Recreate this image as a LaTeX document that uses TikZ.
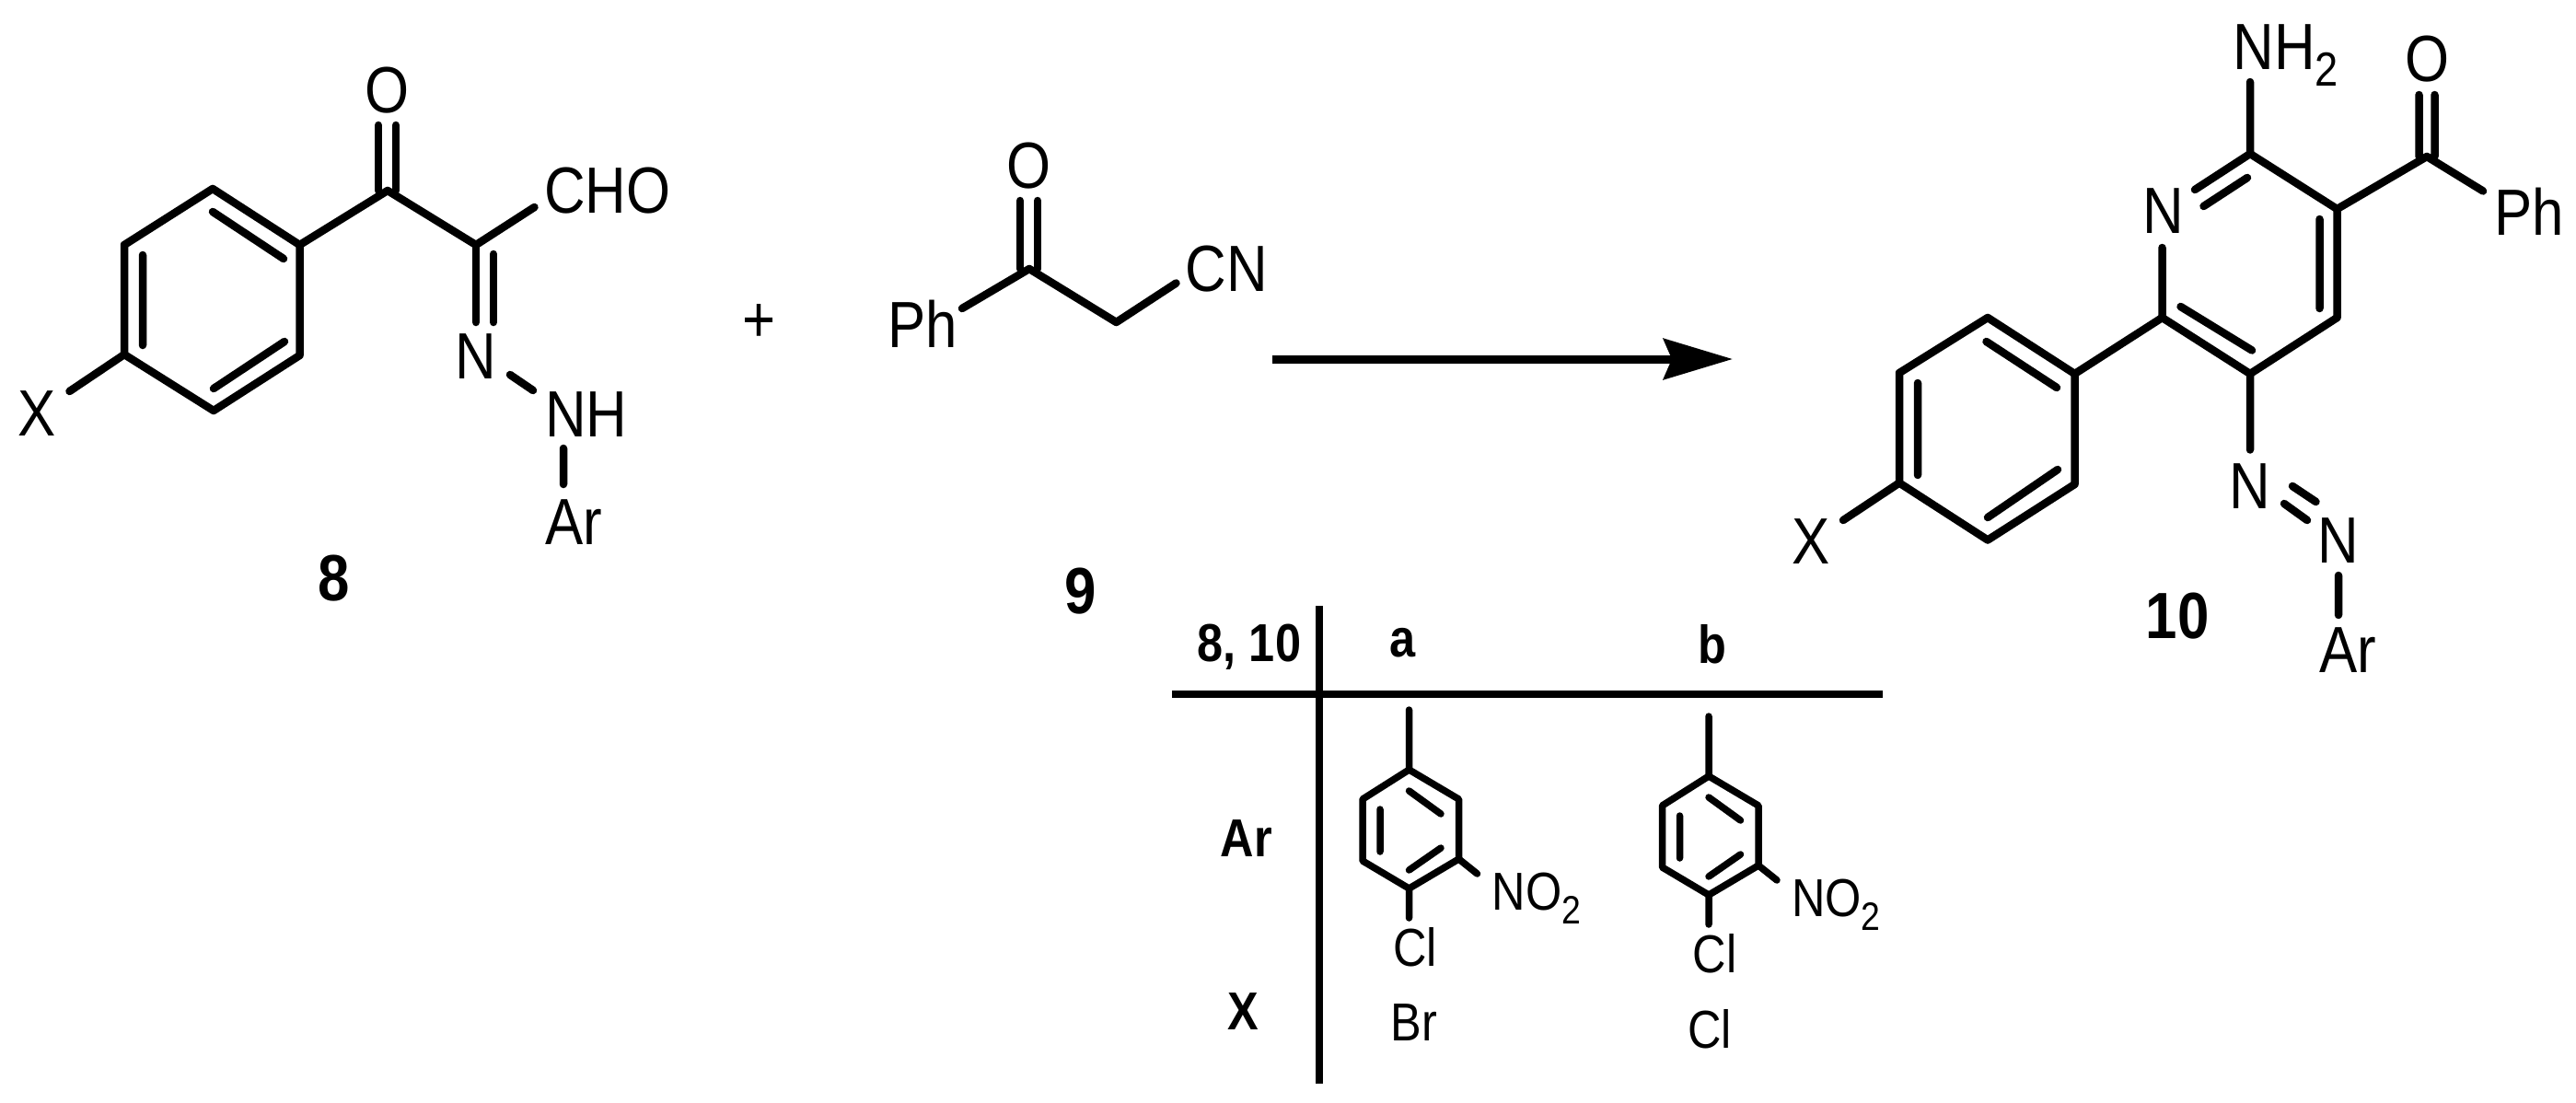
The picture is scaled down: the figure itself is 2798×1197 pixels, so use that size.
\documentclass[tikz,border=0pt]{standalone}
\usepackage{fontspec}
\setmainfont[FakeStretch=0.87]{Liberation Sans}
\usetikzlibrary{arrows.meta}
\newcommand{\subtwo}[1]{\raisebox{-0.26em}{\fontsize{#1}{#1}\selectfont 2}}
\tikzset{
  bond/.style={line width=8.5pt,line cap=round,line join=round},
  smallbond/.style={line width=7.5pt,line cap=round,line join=round},
  rule/.style={line width=8pt},
  atom/.style={inner sep=0pt,font=\fontsize{71}{71}\selectfont},
  tatom/.style={inner sep=0pt,font=\fontsize{58}{58}\selectfont},
  cpd/.style={inner sep=0pt,font=\fontsize{71}{71}\selectfont\bfseries},
  thead/.style={inner sep=0pt,font=\fontsize{58}{58}\selectfont\bfseries},
  rxn/.style={line width=9pt,-{Stealth[length=75pt,width=44pt,inset=9pt]}}
}
\begin{document}
\begin{tikzpicture}[x=1pt,y=-1pt]
\useasboundingbox (0,0) rectangle (2798,1197);
% ---------- compound 8
\coordinate (a1) at (231,205); \coordinate (a2) at (325.5,266); \coordinate (a3) at (325.5,386);
\coordinate (a4) at (232,446); \coordinate (a5) at (135,385); \coordinate (a6) at (135,266);
\coordinate (ai1) at (231,230); \coordinate (ai2) at (308,281); \coordinate (ai3) at (155,277);
\coordinate (ai4) at (155,375); \coordinate (ai5) at (309,371); \coordinate (ai6) at (232,422);
\coordinate (ak) at (421,207); \coordinate (akl) at (411,136); \coordinate (akr) at (430,136);
\coordinate (akl2) at (411,207); \coordinate (akr2) at (430,207);
\coordinate (ac) at (517,266); \coordinate (acho) at (580.5,225);
\coordinate (an1) at (517,350); \coordinate (an2) at (536,350); \coordinate (an3) at (536,276);
\coordinate (ann1) at (554,407); \coordinate (ann2) at (579,424);
\coordinate (aar1) at (612,487); \coordinate (aar2) at (612,526);
\coordinate (ax) at (75.5,425);
\draw[bond] (a1)--(a2)--(a3)--(a4)--(a5)--(a6)--cycle;
\draw[bond] (ai1)--(ai2) (ai3)--(ai4) (ai5)--(ai6);
\draw[bond] (a2)--(ak)--(ac)--(acho);
\draw[bond] (akl)--(akl2) (akr)--(akr2);
\draw[bond] (ac)--(an1) (an3)--(an2);
\draw[bond] (ann1)--(ann2) (aar1)--(aar2) (a5)--(ax);
\node[atom] (aO) at (421,98) {O};
\node[atom] (aCHO) at (660,207) {CHO};
\node[atom] (aN) at (517,387) {N};
\node[atom] (aNH) at (637,450) {NH};
\node[atom] (aAr) at (623,567) {Ar};
\node[atom] (aX) at (40,449) {X};
\node[cpd] (l8) at (363,628) {8};
\node[atom] (plus) at (825,351) {+};
% ---------- compound 9
\coordinate (bc) at (1118,292); \coordinate (bl) at (1108,218); \coordinate (br) at (1127,218);
\coordinate (bl2) at (1108,292); \coordinate (br2) at (1127,292);
\coordinate (bph) at (1045,335); \coordinate (bch) at (1212.5,350); \coordinate (bcn) at (1277.5,307.5);
\draw[bond] (bph)--(bc)--(bch)--(bcn);
\draw[bond] (bl)--(bl2) (br)--(br2);
\node[atom] (bO) at (1118,180) {O};
\node[atom] (bPh) at (1002,352) {Ph};
\node[atom] (bCN) at (1332,292) {CN};
\node[cpd] (l9) at (1174,642) {9};
% ---------- arrow
\coordinate (r1) at (1381.5,390); \coordinate (r2) at (1882,390);
\draw[rxn] (r1)--(r2);
% ---------- compound 10
\coordinate (c2) at (2444,167); \coordinate (c3) at (2538.5,227); \coordinate (c4) at (2538.5,345);
\coordinate (c5) at (2444,406); \coordinate (c6) at (2348.5,345); \coordinate (cn) at (2348.5,269);
\coordinate (cd1) at (2384,206); \coordinate (cd2) at (2393.5,224); \coordinate (cd3) at (2441,193);
\coordinate (cnh) at (2444,89);
\coordinate (ci1) at (2519.5,238); \coordinate (ci2) at (2519.5,335);
\coordinate (ci3) at (2368.5,333); \coordinate (ci4) at (2446,380.5);
\coordinate (ck) at (2636,170); \coordinate (ckl) at (2627.5,103); \coordinate (ckr) at (2644.5,103);
\coordinate (ckl2) at (2627.5,170); \coordinate (ckr2) at (2644.5,170);
\coordinate (cph) at (2697,207.5);
\coordinate (cn1) at (2444,488.5);
\coordinate (cnn1) at (2490,528); \coordinate (cnn2) at (2515.5,545);
\coordinate (cnn3) at (2481,547); \coordinate (cnn4) at (2506,565);
\coordinate (car1) at (2540,625); \coordinate (car2) at (2540,668);
\coordinate (d1) at (2159,345); \coordinate (d2) at (2253.5,406); \coordinate (d3) at (2253.5,526);
\coordinate (d4) at (2159,586.5); \coordinate (d5) at (2063,524.5); \coordinate (d6) at (2063,405);
\coordinate (di1) at (2157.5,371); \coordinate (di2) at (2234,421); \coordinate (di3) at (2083,416);
\coordinate (di4) at (2083,516); \coordinate (di5) at (2159,562); \coordinate (di6) at (2235,510);
\coordinate (cx) at (2002,565);
\draw[bond] (d1)--(d2)--(d3)--(d4)--(d5)--(d6)--cycle;
\draw[bond] (di1)--(di2) (di3)--(di4) (di5)--(di6);
\draw[bond] (cn)--(c6)--(c5)--(c4)--(c3)--(c2)--(cd1);
\draw[bond] (cd2)--(cd3) (ci1)--(ci2) (ci3)--(ci4);
\draw[bond] (c2)--(cnh) (d2)--(c6) (d5)--(cx);
\draw[bond] (c3)--(ck)--(cph) (ckl)--(ckl2) (ckr)--(ckr2);
\draw[bond] (c5)--(cn1) (cnn1)--(cnn2) (cnn3)--(cnn4) (car1)--(car2);
\node[atom,anchor=base west] (cNH) at (2425.5,75) {NH\subtwo{52}};
\node[atom] (cO) at (2636,64.5) {O};
\node[atom] (cN1) at (2349.5,229) {N};
\node[atom] (cPh) at (2747.5,230) {Ph};
\node[atom] (cN2) at (2444,528) {N};
\node[atom] (cN3) at (2540,587.5) {N};
\node[atom] (cAr) at (2550,706) {Ar};
\node[atom] (cX) at (1967.5,588) {X};
\node[cpd] (l10) at (2365,669) {10};
% ---------- table
\coordinate (tv1) at (1432.5,658); \coordinate (tv2) at (1432.5,1177);
\coordinate (th1) at (1273,754); \coordinate (th2) at (2045,754);
\draw[rule] (tv1)--(tv2) (th1)--(th2);
\node[thead,anchor=base] (t810) at (1357,718) {8, 10};
\node[thead] (ta) at (1524,698) {a};
\node[thead,anchor=base] (tb) at (1860,720) {b};
\node[thead] (tAr) at (1354,911) {Ar};
\node[thead] (tX) at (1350.5,1099) {X};
\node[tatom] (tBr) at (1536,1111) {Br};
\node[tatom] (tCl) at (1857,1118) {Cl};
% ring a
\coordinate (e0) at (1530.5,771); \coordinate (e1) at (1530.5,836); \coordinate (e2) at (1584.5,868);
\coordinate (e3) at (1584.5,933); \coordinate (e4) at (1530.5,965); \coordinate (e5) at (1480,935);
\coordinate (e6) at (1480,868);
\coordinate (ei1) at (1530.5,859); \coordinate (ei2) at (1565,884); \coordinate (ei3) at (1499,879);
\coordinate (ei4) at (1499,925); \coordinate (ei5) at (1530.5,945); \coordinate (ei6) at (1565,921);
\coordinate (en) at (1604.5,949); \coordinate (ecl) at (1530.5,997);
\draw[smallbond] (e1)--(e2)--(e3)--(e4)--(e5)--(e6)--cycle;
\draw[smallbond] (ei1)--(ei2) (ei3)--(ei4) (ei5)--(ei6);
\draw[smallbond] (e0)--(e1) (e3)--(en) (e4)--(ecl);
\node[tatom,anchor=base west] (eNO) at (1620.5,988) {NO\subtwo{43}};
\node[tatom] (eCl) at (1537,1029) {Cl};
% ring b
\coordinate (f0) at (1856,778); \coordinate (f1) at (1856,843); \coordinate (f2) at (1910,875);
\coordinate (f3) at (1910,940); \coordinate (f4) at (1856,972); \coordinate (f5) at (1805.5,942);
\coordinate (f6) at (1805.5,875);
\coordinate (fi1) at (1856,866); \coordinate (fi2) at (1890.5,891); \coordinate (fi3) at (1824.5,886);
\coordinate (fi4) at (1824.5,932); \coordinate (fi5) at (1856,952); \coordinate (fi6) at (1890.5,928);
\coordinate (fn) at (1930,956); \coordinate (fcl) at (1856,1004);
\draw[smallbond] (f1)--(f2)--(f3)--(f4)--(f5)--(f6)--cycle;
\draw[smallbond] (fi1)--(fi2) (fi3)--(fi4) (fi5)--(fi6);
\draw[smallbond] (f0)--(f1) (f3)--(fn) (f4)--(fcl);
\node[tatom,anchor=base west] (fNO) at (1946,995) {NO\subtwo{43}};
\node[tatom] (fCl) at (1862.5,1036) {Cl};
\end{tikzpicture}
\end{document}
